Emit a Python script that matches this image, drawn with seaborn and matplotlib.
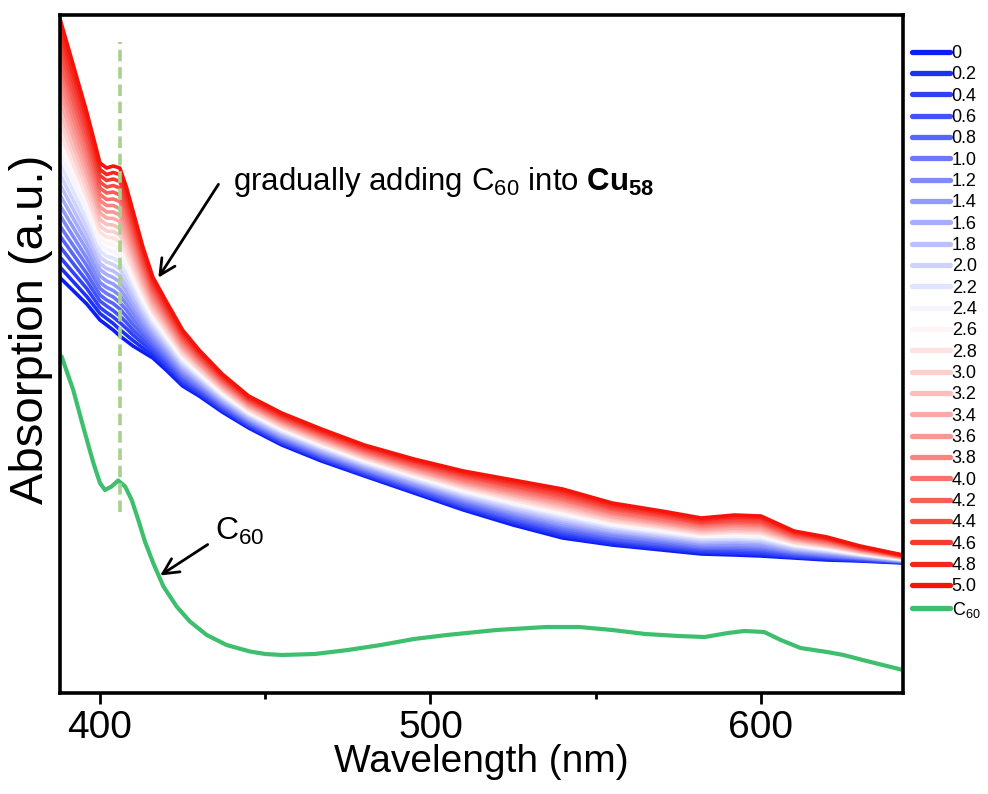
import matplotlib
matplotlib.use("Agg")
import matplotlib.pyplot as plt
from matplotlib.lines import Line2D
import pandas as pd
import seaborn as sns

# ---------------- data ----------------
# Cu58 titration: concentration labels (legend), one absorbance list per wavelength,
# each list holding the 26 spectra in legend order (0 ... 5.0).
CONC_LABELS = ["0", "0.2", "0.4", "0.6", "0.8", "1.0", "1.2", "1.4", "1.6", "1.8",
               "2.0", "2.2", "2.4", "2.6", "2.8", "3.0", "3.2", "3.4", "3.6", "3.8",
               "4.0", "4.2", "4.4", "4.6", "4.8", "5.0"]

WL = [388, 392, 396, 400, 402, 404, 406, 408, 410, 413, 416, 420, 425, 430, 437, 445,
      455, 467, 480, 495, 510, 525, 540, 555, 570, 582, 592, 600, 610, 620, 630, 643]

a388 = [0.830, 0.851, 0.871, 0.892, 0.913, 0.933, 0.954, 0.974, 0.995, 1.016, 1.036, 1.057, 1.078, 1.098, 1.119, 1.140, 1.160, 1.181, 1.202, 1.222, 1.243, 1.263, 1.284, 1.305, 1.325, 1.346]
a392 = [0.804, 0.822, 0.840, 0.858, 0.876, 0.894, 0.912, 0.930, 0.948, 0.966, 0.984, 1.002, 1.020, 1.038, 1.056, 1.074, 1.092, 1.110, 1.128, 1.146, 1.164, 1.182, 1.200, 1.218, 1.236, 1.254]
a396 = [0.778, 0.793, 0.809, 0.824, 0.839, 0.855, 0.870, 0.886, 0.901, 0.916, 0.932, 0.947, 0.962, 0.978, 0.993, 1.008, 1.024, 1.039, 1.055, 1.070, 1.085, 1.101, 1.116, 1.131, 1.147, 1.162]
a400 = [0.746, 0.759, 0.771, 0.784, 0.796, 0.809, 0.821, 0.834, 0.847, 0.859, 0.872, 0.884, 0.897, 0.909, 0.922, 0.934, 0.947, 0.960, 0.972, 0.985, 0.997, 1.010, 1.022, 1.035, 1.047, 1.060]
a402 = [0.736, 0.749, 0.761, 0.774, 0.786, 0.799, 0.811, 0.824, 0.837, 0.849, 0.862, 0.874, 0.887, 0.899, 0.912, 0.924, 0.937, 0.950, 0.962, 0.975, 0.987, 1.000, 1.012, 1.025, 1.037, 1.050]
a404 = [0.726, 0.739, 0.752, 0.765, 0.779, 0.792, 0.805, 0.818, 0.831, 0.844, 0.857, 0.870, 0.883, 0.897, 0.910, 0.923, 0.936, 0.949, 0.962, 0.975, 0.988, 1.002, 1.015, 1.028, 1.041, 1.054]
a406 = [0.714, 0.727, 0.741, 0.754, 0.768, 0.781, 0.795, 0.808, 0.822, 0.835, 0.848, 0.862, 0.875, 0.889, 0.902, 0.916, 0.929, 0.943, 0.956, 0.969, 0.983, 0.996, 1.010, 1.023, 1.037, 1.050]
a408 = [0.704, 0.716, 0.729, 0.741, 0.753, 0.766, 0.778, 0.790, 0.803, 0.815, 0.827, 0.840, 0.852, 0.864, 0.877, 0.889, 0.901, 0.913, 0.926, 0.938, 0.950, 0.963, 0.975, 0.987, 1.000, 1.012]
a410 = [0.694, 0.705, 0.716, 0.726, 0.737, 0.748, 0.759, 0.770, 0.780, 0.791, 0.802, 0.813, 0.824, 0.834, 0.845, 0.856, 0.867, 0.878, 0.888, 0.899, 0.910, 0.921, 0.932, 0.942, 0.953, 0.964]
a413 = [0.682, 0.690, 0.699, 0.707, 0.716, 0.724, 0.732, 0.741, 0.749, 0.758, 0.766, 0.774, 0.783, 0.791, 0.800, 0.808, 0.816, 0.825, 0.833, 0.842, 0.850, 0.858, 0.867, 0.875, 0.884, 0.892]
a416 = [0.670, 0.676, 0.683, 0.689, 0.696, 0.702, 0.709, 0.715, 0.722, 0.728, 0.735, 0.741, 0.748, 0.754, 0.761, 0.767, 0.774, 0.780, 0.787, 0.793, 0.800, 0.806, 0.813, 0.819, 0.826, 0.832]
a420 = [0.646, 0.652, 0.657, 0.663, 0.668, 0.674, 0.679, 0.685, 0.690, 0.696, 0.701, 0.707, 0.712, 0.718, 0.723, 0.729, 0.734, 0.740, 0.745, 0.751, 0.756, 0.762, 0.767, 0.773, 0.778, 0.784]
a425 = [0.614, 0.618, 0.623, 0.627, 0.632, 0.636, 0.641, 0.645, 0.650, 0.654, 0.659, 0.663, 0.668, 0.672, 0.677, 0.681, 0.686, 0.690, 0.695, 0.699, 0.704, 0.708, 0.713, 0.717, 0.722, 0.726]
a430 = [0.594, 0.598, 0.601, 0.605, 0.609, 0.612, 0.616, 0.620, 0.623, 0.627, 0.631, 0.634, 0.638, 0.642, 0.646, 0.649, 0.653, 0.657, 0.660, 0.664, 0.668, 0.671, 0.675, 0.679, 0.682, 0.686]
a437 = [0.562, 0.565, 0.568, 0.571, 0.574, 0.577, 0.580, 0.583, 0.586, 0.589, 0.592, 0.595, 0.598, 0.602, 0.605, 0.608, 0.611, 0.614, 0.617, 0.620, 0.623, 0.626, 0.629, 0.632, 0.635, 0.638]
a445 = [0.530, 0.533, 0.535, 0.538, 0.540, 0.543, 0.545, 0.548, 0.550, 0.553, 0.556, 0.558, 0.561, 0.563, 0.566, 0.568, 0.571, 0.574, 0.576, 0.579, 0.581, 0.584, 0.586, 0.589, 0.591, 0.594]
a455 = [0.496, 0.499, 0.501, 0.504, 0.506, 0.509, 0.511, 0.514, 0.516, 0.519, 0.522, 0.524, 0.527, 0.529, 0.532, 0.534, 0.537, 0.540, 0.542, 0.545, 0.547, 0.550, 0.552, 0.555, 0.557, 0.560]
a467 = [0.464, 0.467, 0.469, 0.472, 0.474, 0.477, 0.479, 0.482, 0.484, 0.487, 0.490, 0.492, 0.495, 0.497, 0.500, 0.502, 0.505, 0.508, 0.510, 0.513, 0.515, 0.518, 0.520, 0.523, 0.525, 0.528]
a480 = [0.434, 0.436, 0.439, 0.441, 0.444, 0.446, 0.449, 0.451, 0.454, 0.456, 0.459, 0.461, 0.464, 0.466, 0.469, 0.471, 0.474, 0.476, 0.479, 0.481, 0.484, 0.486, 0.489, 0.491, 0.494, 0.496]
a495 = [0.400, 0.403, 0.405, 0.408, 0.411, 0.414, 0.416, 0.419, 0.422, 0.425, 0.427, 0.430, 0.433, 0.435, 0.438, 0.441, 0.444, 0.446, 0.449, 0.452, 0.454, 0.457, 0.460, 0.463, 0.465, 0.468]
a510 = [0.366, 0.369, 0.372, 0.375, 0.378, 0.382, 0.385, 0.388, 0.391, 0.394, 0.397, 0.400, 0.403, 0.407, 0.410, 0.413, 0.416, 0.419, 0.422, 0.425, 0.428, 0.432, 0.435, 0.438, 0.441, 0.444]
a525 = [0.336, 0.340, 0.343, 0.347, 0.350, 0.354, 0.358, 0.361, 0.365, 0.368, 0.372, 0.376, 0.379, 0.383, 0.386, 0.390, 0.394, 0.397, 0.401, 0.404, 0.408, 0.412, 0.415, 0.419, 0.422, 0.426]
a540 = [0.310, 0.314, 0.318, 0.322, 0.326, 0.330, 0.334, 0.337, 0.341, 0.345, 0.349, 0.353, 0.357, 0.361, 0.365, 0.369, 0.373, 0.377, 0.381, 0.385, 0.388, 0.392, 0.396, 0.400, 0.404, 0.408]
a555 = [0.296, 0.299, 0.303, 0.306, 0.309, 0.313, 0.316, 0.320, 0.323, 0.326, 0.330, 0.333, 0.336, 0.340, 0.343, 0.346, 0.350, 0.353, 0.357, 0.360, 0.363, 0.367, 0.370, 0.373, 0.377, 0.380]
a570 = [0.286, 0.289, 0.292, 0.295, 0.298, 0.302, 0.305, 0.308, 0.311, 0.314, 0.317, 0.320, 0.323, 0.327, 0.330, 0.333, 0.336, 0.339, 0.342, 0.345, 0.348, 0.352, 0.355, 0.358, 0.361, 0.364]
a582 = [0.278, 0.281, 0.284, 0.287, 0.290, 0.292, 0.295, 0.298, 0.301, 0.304, 0.307, 0.310, 0.313, 0.315, 0.318, 0.321, 0.324, 0.327, 0.330, 0.333, 0.336, 0.339, 0.341, 0.344, 0.347, 0.350]
a592 = [0.276, 0.279, 0.282, 0.286, 0.289, 0.292, 0.295, 0.298, 0.302, 0.305, 0.308, 0.311, 0.314, 0.318, 0.321, 0.324, 0.327, 0.330, 0.334, 0.337, 0.340, 0.343, 0.346, 0.350, 0.353, 0.356]
a600 = [0.274, 0.277, 0.280, 0.284, 0.287, 0.290, 0.293, 0.296, 0.300, 0.303, 0.306, 0.309, 0.312, 0.316, 0.319, 0.322, 0.325, 0.328, 0.332, 0.335, 0.338, 0.341, 0.344, 0.348, 0.351, 0.354]
a610 = [0.270, 0.272, 0.274, 0.276, 0.279, 0.281, 0.283, 0.285, 0.287, 0.289, 0.292, 0.294, 0.296, 0.298, 0.300, 0.302, 0.305, 0.307, 0.309, 0.311, 0.313, 0.315, 0.318, 0.320, 0.322, 0.324]
a620 = [0.266, 0.268, 0.270, 0.272, 0.273, 0.275, 0.277, 0.279, 0.281, 0.283, 0.284, 0.286, 0.288, 0.290, 0.292, 0.294, 0.295, 0.297, 0.299, 0.301, 0.303, 0.305, 0.307, 0.308, 0.310, 0.312]
a630 = [0.264, 0.265, 0.266, 0.268, 0.269, 0.270, 0.271, 0.272, 0.274, 0.275, 0.276, 0.277, 0.278, 0.280, 0.281, 0.282, 0.283, 0.284, 0.286, 0.287, 0.288, 0.289, 0.290, 0.292, 0.293, 0.294]
a643 = [0.260, 0.261, 0.261, 0.262, 0.263, 0.263, 0.264, 0.264, 0.265, 0.266, 0.266, 0.267, 0.268, 0.268, 0.269, 0.270, 0.270, 0.271, 0.272, 0.272, 0.273, 0.273, 0.274, 0.275, 0.275, 0.276]

ABS_BY_WL = [a388, a392, a396, a400, a402, a404, a406, a408, a410, a413, a416, a420, a425,
             a430, a437, a445, a455, a467, a480, a495, a510, a525, a540, a555, a570, a582,
             a592, a600, a610, a620, a630, a643]

C60_WL = [388.4, 391.9, 394.9, 398.0, 400.0, 401.5, 403.5, 405.5, 407.6, 409.6, 411.6,
          413.6, 416.1, 419.2, 423.2, 427.2, 432.3, 438.3, 445.4, 450, 455, 465, 475, 485,
          495, 505, 520, 535, 545, 555, 565, 575, 583, 590, 595, 601, 606, 612, 620, 625,
          632, 643]
C60_ABS = [0.673, 0.606, 0.533, 0.460, 0.420, 0.406, 0.413, 0.425, 0.413, 0.386, 0.346,
           0.303, 0.260, 0.213, 0.173, 0.143, 0.116, 0.096, 0.083, 0.078, 0.076, 0.078,
           0.086, 0.096, 0.108, 0.116, 0.126, 0.132, 0.132, 0.126, 0.118, 0.114, 0.112,
           0.120, 0.124, 0.122, 0.106, 0.090, 0.082, 0.076, 0.064, 0.046]

VLINE_WL = 406.2
VLINE_ABS = [0.362, 1.302]

# ---------------- style ----------------
sns.set_style("ticks")
plt.rcParams["font.family"] = ["Liberation Sans", "DejaVu Sans"]
plt.rcParams["mathtext.fontset"] = "custom"
plt.rcParams["mathtext.rm"] = "Liberation Sans"
plt.rcParams["mathtext.it"] = "Liberation Sans:italic"
plt.rcParams["mathtext.bf"] = "Liberation Sans:bold"
for key in ["text.color", "axes.labelcolor", "xtick.color", "ytick.color"]:
    plt.rcParams[key] = "black"

pal = sns.blend_palette(["#0a1ef5", "#ffffff", "#f5140a"], len(CONC_LABELS))
GREEN = "#3dbf6e"
DASH_GREEN = "#a9d18e"

rows = []
for w, vals in zip(WL, ABS_BY_WL):
    for lab, a in zip(CONC_LABELS, vals):
        rows.append({"conc": lab, "wl": w, "A": a})
df = pd.DataFrame(rows)

fig = plt.figure(figsize=(9.88, 7.94), dpi=100)
ax = fig.add_axes([60 / 988, 1 - 693 / 794, (903 - 60) / 988, (693 - 15) / 794])

sns.lineplot(data=df, x="wl", y="A", hue="conc", hue_order=CONC_LABELS, palette=pal,
             estimator=None, sort=True, linewidth=2.6, legend=False, ax=ax)
sns.lineplot(x=C60_WL, y=C60_ABS, color=GREEN, estimator=None, sort=False,
             linewidth=3.0, ax=ax)
ax.plot([VLINE_WL, VLINE_WL], VLINE_ABS, color=DASH_GREEN, lw=2.6,
        linestyle=(0, (3.2, 1.6)), zorder=5)

ax.set_xlim(387.9, 643)
ax.set_ylim(0, 1.356)
ax.set_yticks([])
ax.set_xticks([400, 500, 600])
ax.set_xticks([450, 550], minor=True)
ax.tick_params(axis="x", which="major", length=8, width=2, labelsize=28, pad=4,
               direction="out", color="black")
ax.tick_params(axis="x", which="minor", length=4, width=2, direction="out", color="black")
for s in ax.spines.values():
    s.set_visible(True)
    s.set_linewidth(2.6)
    s.set_color("black")

ax.set_xlabel("Wavelength (nm)", fontsize=28, labelpad=-1)
ax.set_ylabel("Absorption (a.u.)", fontsize=34)
ax.yaxis.set_label_coords(-0.008, 0.537)

# annotations
ax.annotate("", xy=(417.2, 0.826), xytext=(436.3, 1.022),
            arrowprops=dict(arrowstyle="->", lw=2, color="black", mutation_scale=28))
ax.text(440.2, 1.006, "gradually adding C$_{60}$ into $\\mathbf{Cu_{58}}$",
        fontsize=22.5, ha="left", va="baseline", color="black")
ax.annotate("", xy=(417.5, 0.232), xytext=(433.3, 0.300),
            arrowprops=dict(arrowstyle="->", lw=2, color="black", mutation_scale=28))
ax.text(434.8, 0.306, "C$_{60}$", fontsize=23, ha="left", va="baseline", color="black")

# legend
handles = [Line2D([0], [0], color=c, lw=3.8) for c in pal] + [Line2D([0], [0], color=GREEN, lw=3.8)]
labels = CONC_LABELS + ["C$_{60}$"]
fig.legend(handles, labels, loc="upper left", bbox_to_anchor=(912 / 988, 1 - 45 / 794),
           frameon=False, fontsize=13, handlelength=2.1, handletextpad=0.1,
           labelspacing=0.24, borderaxespad=0, borderpad=0)

fig.savefig("out.png", dpi=100)
